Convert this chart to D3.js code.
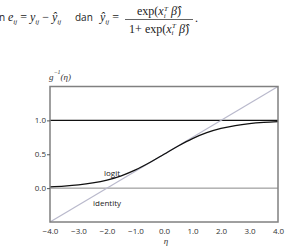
<!DOCTYPE html>
<html>
<head>
<meta charset="utf-8">
<script src="https://cdn.jsdelivr.net/npm/d3@7"></script>
<style>
  body { margin: 0; background: #fff; }
  svg { display: block; }
</style>
</head>
<body>
<div id="chart"></div>
<script>
// values
const etaTicks = [-4, -3, -2, -1, 0, 1, 2, 3, 4];
const gTicks = [0, 0.5, 1];
const refLines = [0, 1];
const logitEta = [-4, -3.5, -3, -2.5, -2, -1.5, -1, -0.5, 0, 0.5, 1, 1.5, 2, 2.5, 3, 3.5, 4];
const logitG = [0.018, 0.029, 0.047, 0.076, 0.119, 0.182, 0.269, 0.378, 0.5, 0.622, 0.731, 0.818, 0.881, 0.924, 0.953, 0.971, 0.982];
const identityEta = [-4, 4];
const identityG = [-0.5, 1.5];

const W = 287, H = 252;
const PLOT = { LEFT: 50, RIGHT: 278, TOP: 86.5, BOTTOM: 222 };
const MATH = 12;

const svg = d3.select("#chart").append("svg")
    .attr("width", W)
    .attr("height", H);

// ---- formula line above the chart ----
const serif = "'Liberation Serif', 'DejaVu Serif', serif";
const sans = "'Open Sans', 'DejaVu Sans', sans-serif";

function mathText(x, y, parts, anchor) {
    const t = svg.append("text")
        .attr("x", x).attr("y", y)
        .attr("font-family", serif)
        .attr("font-size", MATH)
        .attr("fill", "#222")
        .attr("text-anchor", anchor || "start");
    parts.forEach(p => {
        const s = t.append("tspan").text(p.t);
        if (p.i) s.attr("font-style", "italic");
        if (p.sub) s.attr("font-size", 7).attr("dy", p.sub);
        if (p.dy) s.attr("dy", p.dy);
        if (p.dx) s.attr("dx", p.dx);
    });
    return t;
}

svg.append("text").attr("x", -1).attr("y", 21)
    .attr("font-family", sans).attr("font-size", 10).attr("fill", "#222").text("n");

mathText(8, 21, [
    { t: "e", i: true }, { t: "ij", i: true, sub: 2.5 },
    { t: " = ", dy: -2.5 }, { t: "y", i: true }, { t: "ij", i: true, sub: 2.5 },
    { t: " − ", dy: -2.5 }, { t: "ŷ", i: true }, { t: "ij", i: true, sub: 2.5 }
]);

svg.append("text").attr("x", 75).attr("y", 21)
    .attr("font-family", sans).attr("font-size", 10).attr("fill", "#222").text("dan");

mathText(100, 21, [
    { t: "ŷ", i: true }, { t: "ij", i: true, sub: 2.5 },
    { t: " =", dy: -2.5 }
]);

const num = [
    { t: "exp(" }, { t: "x", i: true }, { t: "i", i: true, sub: 2.5 },
    { t: "T", i: true, sub: -7, dx: -1.5 }, { t: " β̂", i: true, dy: 4.5 }, { t: ")" }
];
mathText(159, 15, num, "middle");
svg.append("line")
    .attr("x1", 125).attr("x2", 193)
    .attr("y1", 19.5).attr("y2", 19.5)
    .attr("stroke", "#222").attr("stroke-width", 0.7);
mathText(159, 32.5, [{ t: "1+ " }].concat(num), "middle");
svg.append("text").attr("x", 195).attr("y", 22)
    .attr("font-family", serif).attr("font-size", MATH).attr("fill", "#222").text(".");

// ---- chart ----
const x = d3.scaleLinear().domain([-4, 4]).range([PLOT.LEFT, PLOT.RIGHT]);
const y = d3.scaleLinear().domain([-0.5, 1.5]).range([PLOT.BOTTOM, PLOT.TOP]);

const line = d3.line()
    .x(d => x(d[0]))
    .y(d => y(d[1]));

// reference lines at 0 and 1
svg.selectAll("line.ref")
    .data(refLines)
    .enter().append("line")
    .attr("class", "ref")
    .attr("x1", PLOT.LEFT).attr("x2", PLOT.RIGHT)
    .attr("y1", d => y(d)).attr("y2", d => y(d))
    .attr("stroke", d => d === 1 ? "#111" : "#888")
    .attr("stroke-width", d => d === 1 ? 1.3 : 1);

// identity (linear) line
svg.append("path")
    .datum(identityEta.map((e, i) => [e, identityG[i]]))
    .attr("d", line)
    .attr("fill", "none")
    .attr("stroke", "#b9b9cc")
    .attr("stroke-width", 1.2);

// logit curve
svg.append("path")
    .datum(logitEta.map((e, i) => [e, logitG[i]]))
    .attr("d", line.curve(d3.curveMonotoneX))
    .attr("fill", "none")
    .attr("stroke", "#111")
    .attr("stroke-width", 1.3);

// frame
svg.append("rect")
    .attr("x", PLOT.LEFT).attr("y", PLOT.TOP)
    .attr("width", PLOT.RIGHT - PLOT.LEFT)
    .attr("height", PLOT.BOTTOM - PLOT.TOP)
    .attr("fill", "none")
    .attr("stroke", "#808080")
    .attr("stroke-width", 1.5);

// axes
const yAxis = svg.append("g")
    .attr("transform", `translate(${PLOT.LEFT},0)`)
    .call(d3.axisLeft(y).tickValues(gTicks).tickSize(3).tickPadding(1).tickFormat(d3.format(".1f")));
yAxis.select(".domain").remove();

const xAxis = svg.append("g")
    .attr("transform", `translate(0,${PLOT.BOTTOM})`)
    .call(d3.axisBottom(x).tickValues(etaTicks).tickSize(0).tickPadding(6).tickFormat(d3.format(".1f")));
xAxis.select(".domain").remove();

svg.selectAll(".tick text")
    .attr("font-family", sans)
    .attr("font-size", 8)
    .attr("fill", "#333");
svg.selectAll(".tick line").attr("stroke", "#555");

// labels
svg.append("text").attr("x", 166).attr("y", 244)
    .attr("font-family", serif).attr("font-style", "italic")
    .attr("font-size", 9).attr("fill", "#333").attr("text-anchor", "middle").text("η");

const yl = svg.append("text").attr("x", 49).attr("y", 80)
    .attr("font-family", serif).attr("font-style", "italic")
    .attr("font-size", 9).attr("fill", "#333");
yl.append("tspan").text("g");
yl.append("tspan").attr("font-size", 6).attr("dy", -6).text("−1");
yl.append("tspan").attr("dy", 6).text("(η)");

svg.append("text").attr("x", 104).attr("y", 176)
    .attr("font-family", sans).attr("font-size", 8).attr("fill", "#222").text("logit");
svg.append("text").attr("x", 93).attr("y", 206)
    .attr("font-family", sans).attr("font-size", 8).attr("fill", "#222").text("identity");
</script>
</body>
</html>
